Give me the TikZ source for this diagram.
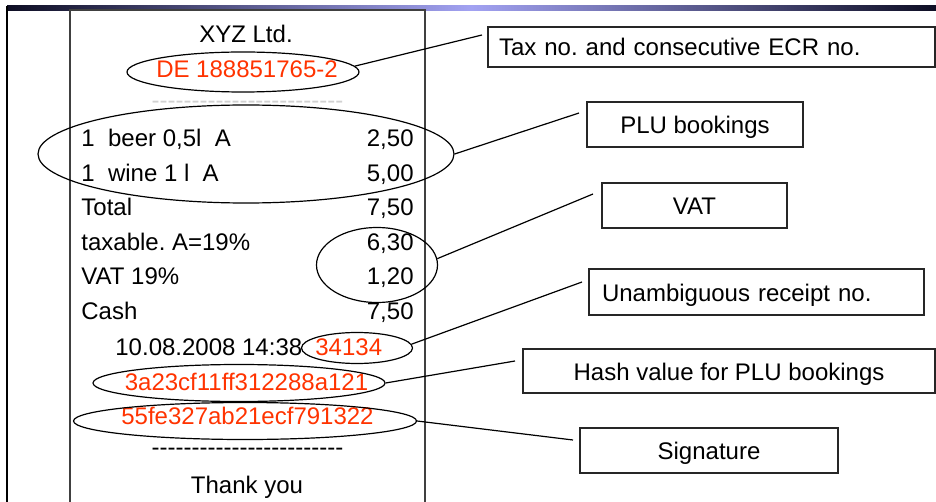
\documentclass[tikz,border=0pt]{standalone}
\usepackage{fontspec}
\newfontfamily\arial{Liberation Sans}
\usetikzlibrary{shapes.geometric,positioning}
\definecolor{hashred}{RGB}{255,51,0}
\definecolor{bardark}{RGB}{14,14,36}
\definecolor{barlight}{RGB}{162,162,242}
\frenchspacing
\tikzstyle{every node}=[font=\arial\fontsize{12}{14}\selectfont]
\tikzstyle{entry} = [inner sep=0pt]
\tikzstyle{secret} = [entry,text=hashred]
\tikzstyle{ring} = [ellipse,draw=black,line width=0.6pt,inner sep=0pt]
\tikzstyle{textbox} = [rectangle,draw=black!85,line width=0.6pt,text height=9pt,text depth=0pt,inner ysep=0pt]
\tikzstyle{pointer} = [line width=0.6pt]
\tikzstyle{paper} = [line width=1pt,draw=black!75]

\begin{document}
\begin{tikzpicture}[x=0.5pt,y=-0.5pt]
\useasboundingbox (0,0) rectangle (936,502);

% slide frame
\shade[left color=bardark,right color=bardark,middle color=barlight] (7,6) rectangle (936,10.5);
\draw[line width=0.8pt] (7,6) -- (7,502);
\draw[paper] (70,502) |- (425,10.5) -- (425,502);

% receipt
\node (xyz) [entry, anchor=base] at (246,43) {XYZ Ltd.};
\node (taxno) [secret, anchor=base] at (247,78) {DE 188851765-2};
\node (rule1) [entry, text=black!18] at (247.5,105) {------------------------};

\node (beer) [entry, anchor=base west] at (81,147) {1\ \ beer 0,5l\ \ A};
\node (beerp) [entry, anchor=base east] at (414,147) {2,50};
\node (wine) [entry, anchor=base west] at (81,181.5) {1\ \ wine 1 l\ \ A};
\node (winep) [entry, anchor=base east] at (414,181.5) {5,00};
\node (total) [entry, anchor=base west] at (81,216) {Total};
\node (totalp) [entry, anchor=base east] at (414,216) {7,50};
\node (taxable) [entry, anchor=base west] at (81,250.5) {taxable. A=19\%};
\node (taxablep) [entry, anchor=base east] at (414,250.5) {6,30};
\node (vat) [entry, anchor=base west] at (81,285) {VAT 19\%};
\node (vatp) [entry, anchor=base east] at (414,285) {1,20};
\node (cash) [entry, anchor=base west] at (81,319) {Cash};
\node (cashp) [entry, anchor=base east] at (414,319) {7,50};

\node (date) [entry, anchor=base west] at (115,355) {10.08.2008 14:38};
\node (receiptno) [secret, anchor=base west] at (315,355) {34134};
\node (hash) [secret, anchor=base] at (246.5,390) {3a23cf11ff312288a121};
\node (sig) [secret, anchor=base] at (247.5,424) {55fe327ab21ecf791322};
\node (rule2) [entry] at (247.5,452) {------------------------};
\node (thanks) [entry, anchor=base] at (247,493) {Thank you};

% marks on the receipt
\node (taxell) [ring, minimum width=116pt, minimum height=20pt] at (243,72) {};
\node (pluell) [ring, minimum width=208pt, minimum height=49pt] at (246,154) {};
\node (vatell) [ring, minimum width=60.5pt, minimum height=37.5pt] at (377,265) {};
\node (noell) [ring, minimum width=55.5pt, minimum height=15.5pt] at (357,348) {};
\node (hashell) [ring, minimum width=146pt, minimum height=18.5pt] at (239,383) {};
\node (sigell) [ring, minimum width=171.5pt, minimum height=18.5pt] at (245,421) {};

% explanations
\node (taxbox) [textbox, text width=212.5pt, inner xsep=5.5pt, align=left, minimum height=20pt] at (711.5,47) {Tax no. and consecutive ECR no.};
\node (plubox) [textbox, minimum width=108pt, minimum height=22.5pt] at (695,124.5) {PLU bookings};
\node (vatbox) [textbox, minimum width=92.5pt, minimum height=22.5pt] at (694.5,205.5) {VAT};
\node (nobox) [textbox, text width=154.5pt, inner xsep=6.5pt, align=left, minimum height=23pt] at (756.5,292) {Unambiguous receipt no.};
\node (hashbox) [textbox, minimum width=206pt, minimum height=22pt] at (729,371) {Hash value for PLU bookings};
\node (sigbox) [textbox, minimum width=129pt, minimum height=22.5pt] at (709,450.5) {Signature};

\coordinate (taxend) at (482,35);
\coordinate (pluend) at (579,113);
\coordinate (vatend) at (593,194);
\coordinate (noend) at (582,282);
\coordinate (hashend) at (515,361);
\coordinate (sigend) at (573,440);

\draw [pointer] (taxell.3) -- (taxend);
\draw [pointer] (pluell.east) -- (pluend);
\draw [pointer] (vatell.6) -- (vatend);
\draw [pointer] (noell.4) -- (noend);
\draw [pointer] (hashell.east) -- (hashend);
\draw [pointer] (sigell.east) -- (sigend);

\end{tikzpicture}
\end{document}
